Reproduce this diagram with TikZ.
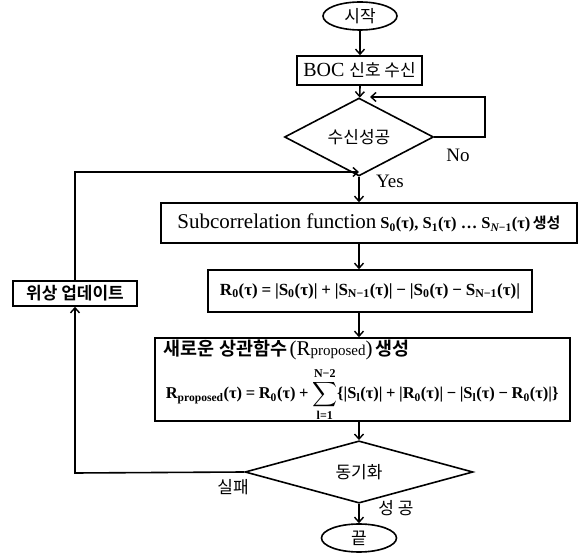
\documentclass[tikz,border=0pt]{standalone}
\usepackage{amsmath}
\usepackage{fontspec}
\setmainfont{Liberation Serif}
\newfontfamily\kr{Noto Sans CJK KR}[BoldFont={Noto Sans CJK KR Bold}]
\usetikzlibrary{shapes.geometric,arrows.meta}
\newcommand{\krt}[1]{{\kr\fontsize{17}{19}\selectfont #1}}
\newcommand{\krbt}[1]{{\kr\bfseries\fontsize{17}{19}\selectfont #1}}
\newcommand{\sbs}[1]{\textsubscript{#1}}
\newcommand{\op}[1]{\hspace{0.22em}#1\hspace{0.22em}}
\newcommand{\subtxt}{{\fontsize{21}{23}\selectfont Subcorrelation function}\hspace{0.4em}{\bfseries\fontsize{16.5}{18}\selectfont S\sbs{0}(τ), S\sbs{1}(τ) … S\sbs{\itshape N\upshape−1}(τ)}\ {\kr\bfseries\fontsize{15}{17}\selectfont 생성}}
\newcommand{\rzero}{{\bfseries\fontsize{17}{19}\selectfont R\sbs{0}(τ)\op{=}|S\sbs{0}(τ)|\op{+}|S\sbs{N−1}(τ)|\op{−}|S\sbs{0}(τ)\op{−}S\sbs{N−1}(τ)|}}
\newcommand{\nbtitle}{{\kr\bfseries\fontsize{18.5}{20}\selectfont 새로운 상관함수} {\fontsize{21}{23}\selectfont (R{\fontsize{15}{17}\selectfont proposed})} {\kr\bfseries\fontsize{18.5}{20}\selectfont 생성}}
\newcommand{\rprop}{{\bfseries\fontsize{16.5}{18}\selectfont R\sbs{proposed}(τ)\op{=}R\sbs{0}(τ)\op{+}$\displaystyle\sum_{\mbox{\bfseries\fontsize{12}{13}\selectfont l=1}}^{\mbox{\bfseries\fontsize{12}{13}\selectfont N−2}}$\{|S\sbs{l}(τ)|\op{+}|R\sbs{0}(τ)|\op{−}|S\sbs{l}(τ)\op{−}R\sbs{0}(τ)|\}}}
\begin{document}
\begin{tikzpicture}[x=1pt,y=-1pt, line width=1.6pt,
  box/.style={draw, rectangle, inner sep=0pt},
  term/.style={draw, ellipse, inner sep=0pt},
  dec/.style={draw, diamond, inner sep=0pt},
  arr/.style={-{Straight Barb[length=5pt,width=9pt,line width=1.4pt]}},
  lbl/.style={inner sep=0pt}]
\useasboundingbox (0,0) rectangle (579,553);
% nodes
\node[term, minimum width=74pt, minimum height=28pt] (start) at (360,16) {\krt{시작}};
\node[box, minimum width=125pt, minimum height=29pt] (boc) at (359.5,70.5) {\fontsize{20}{22}\selectfont BOC \krt{신호 수신}};
\node[dec, minimum width=149pt, minimum height=47pt] (d1) at (359,137) {\krt{수신성공}};
\node[box, minimum width=416pt, minimum height=40pt] (sub) at (369,223) {\subtxt};
\node[box, minimum width=324pt, minimum height=42pt] (r0) at (370,291) {\rzero};
\node[box, minimum width=415pt, minimum height=83pt] (nb) at (362.5,379.5) {};
\node[lbl, anchor=west] (nbt) at (163,349.5) {\nbtitle};
\node[lbl, anchor=west] (nbf) at (165,394.5) {\rprop};
\node[dec, minimum width=228pt, minimum height=47pt] (d2) at (359,472) {\krt{동기화}};
\node[term, minimum width=75pt, minimum height=28pt] (end) at (359,538) {\krt{끝}};
\node[box, minimum width=124pt, minimum height=25pt] (phase) at (75,293.5) {\krbt{위상 업데이트}};
% labels
\node[lbl] (no) at (458,155) {\fontsize{19}{21}\selectfont No};
\node[lbl] (yes) at (390,181) {\fontsize{19}{21}\selectfont Yes};
\node[lbl] (fail) at (233,487) {\krt{실패}};
\node[lbl] (ok) at (396,508) {\krt{성 공}};
% coordinates
\coordinate (loopR) at (485,137);
\coordinate (loopT) at (485,97);
\coordinate (loopE) at (370,97);
\coordinate (fbB) at (75,473);
\coordinate (fbT) at (75,172);
\coordinate (fbE) at (359,172);
% connectors
\draw[arr] (start) -- (start |- boc.north);
\draw[arr] (start |- boc.south) -- (d1);
\draw[arr] (d1.east) -- (loopR) -- (loopT) -- (loopE);
\draw[arr] (d1.south) -- (d1.south |- sub.north);
\draw[arr] (d1.south |- sub.south) -- (d1.south |- r0.north);
\draw[arr] (d1.south |- r0.south) -- (d1.south |- nb.north);
\draw[arr] (d1.south |- nb.south) -- (d2.north);
\draw[arr] (d2.south) -- (end.north);
\draw[arr] (d2.west) -- (fbB) -- (phase.south);
\draw[arr] (phase.north) -- (fbT) -- (fbE);
\end{tikzpicture}
\end{document}
